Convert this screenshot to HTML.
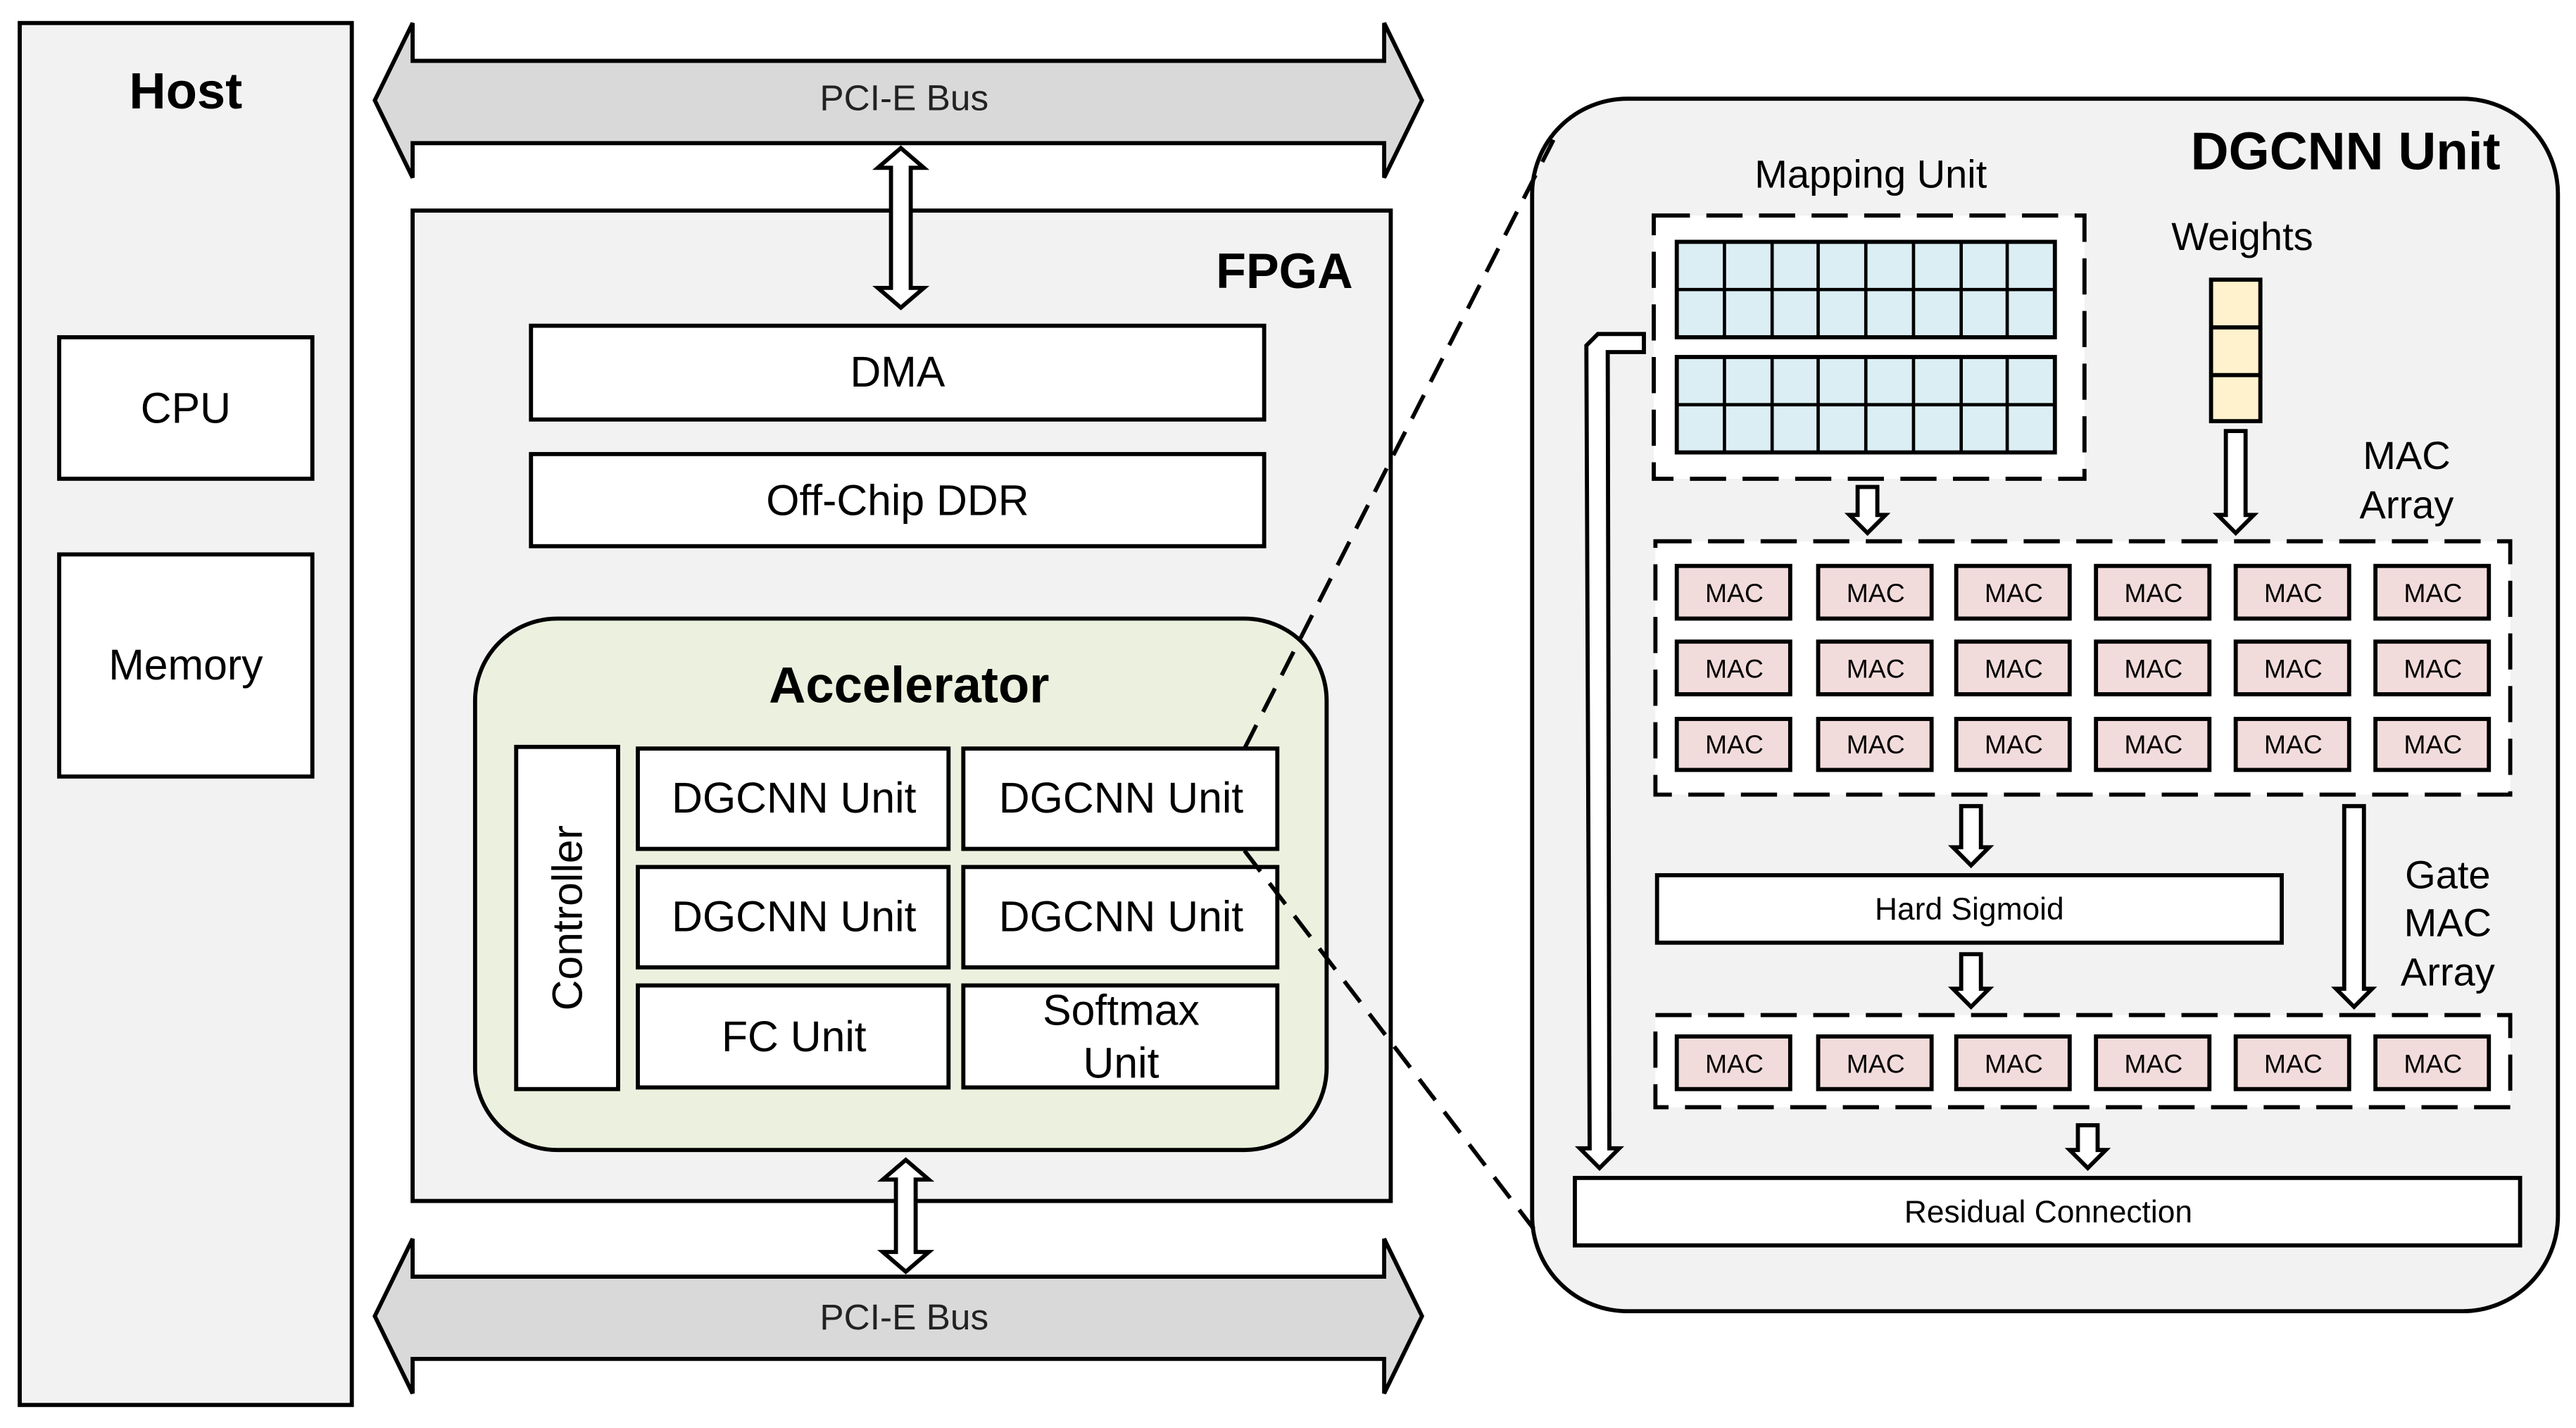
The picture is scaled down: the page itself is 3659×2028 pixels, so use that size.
<!DOCTYPE html>
<html><head><meta charset="utf-8"><style>html,body{margin:0;padding:0;background:#fff}svg{display:block}</style></head>
<body>
<svg width="3659" height="2028" viewBox="0 0 1567 868" preserveAspectRatio="none" xmlns="http://www.w3.org/2000/svg" font-family="'Liberation Sans', 'DejaVu Sans', sans-serif">
<g stroke="#000" stroke-width="2.5">
<rect x="12" y="14" width="202" height="840" fill="#f2f2f2"/>
<rect x="36" y="205" width="154" height="86" fill="#fff"/>
<rect x="36" y="337" width="154" height="135" fill="#fff"/>
<polygon points="228,61 251,14 251,37 842,37 842,14 865,61 842,108 842,87 251,87 251,108" fill="#d9d9d9"/>
<polygon points="228,800 251,753 251,776 842,776 842,753 865,800 842,847 842,826 251,826 251,847" fill="#d9d9d9"/>
<rect x="251" y="128" width="595" height="602" fill="#f2f2f2"/>
<polygon points="548,90 562,102 554,102 554,175 562,175 548,187 534,175 542,175 542,102 534,102" fill="#fff"/>
<polygon points="551,705 565,717 557,717 557,761 565,761 551,773 537,761 545,761 545,717 537,717" fill="#fff"/>
<rect x="323" y="198" width="446" height="57" fill="#fff"/>
<rect x="323" y="276" width="446" height="56" fill="#fff"/>
<rect x="289" y="376" width="518" height="323" rx="50" fill="#ebf1de"/>
<rect x="314" y="454" width="62" height="208" fill="#fff"/>
<rect x="388" y="455" width="189" height="61" fill="#fff"/>
<rect x="586" y="455" width="191" height="61" fill="#fff"/>
<rect x="388" y="527" width="189" height="61" fill="#fff"/>
<rect x="586" y="527" width="191" height="61" fill="#fff"/>
<rect x="388" y="599" width="189" height="62" fill="#fff"/>
<rect x="586" y="599" width="191" height="62" fill="#fff"/>
<rect x="932" y="60" width="624" height="737" rx="58" fill="#f2f2f2"/>
<line x1="757" y1="455" x2="945" y2="85" stroke-dasharray="16,9"/>
<line x1="757" y1="517" x2="933" y2="747" stroke-dasharray="16,9"/>
<rect x="1006" y="131" width="262" height="160" fill="#fff" stroke-dasharray="22,10"/>
<rect x="1007" y="329" width="520" height="154" fill="#fff" stroke-dasharray="22,10"/>
<rect x="1007" y="617" width="520" height="56" fill="#fff" stroke-dasharray="22,10"/>
<g fill="#dbeef3">
<rect x="1020" y="147" width="230" height="58"/><rect x="1020" y="217" width="230" height="58"/>
</g>
<g stroke-width="2">
<path d="M1020 176H1250M1020 246H1250M1049 147V205M1078 147V205M1106 147V205M1135 147V205M1164 147V205M1193 147V205M1221 147V205M1049 217V275M1078 217V275M1106 217V275M1135 217V275M1164 217V275M1193 217V275M1221 217V275"/>
</g>
<rect x="1345" y="170" width="30" height="86" fill="#fff2cc"/>
<path d="M1345 199H1375M1345 228H1375"/>
<g fill="#fff">
<polygon points="1130,296 1142,296 1142,313 1147,313 1136,324 1125,313 1130,313"/>
<polygon points="1354,262 1366,262 1366,313 1371,313 1360,324 1349,313 1354,313"/>
<polygon points="1193,490 1205,490 1205,515 1210,515 1199,526 1188,515 1193,515"/>
<polygon points="1193,580 1205,580 1205,601 1210,601 1199,612 1188,601 1193,601"/>
<polygon points="1426,490 1438,490 1438,601 1443,601 1432,612 1421,601 1426,601"/>
<polygon points="1264,684 1276,684 1276,699 1281,699 1270,710 1259,699 1264,699"/>
<polygon points="1000,203 972,203 965,210 967,698 961,698 973,710 985,698 979,698 978,214 1000,214"/>
<rect x="1008" y="532" width="380" height="41"/>
<rect x="958" y="716" width="575" height="41"/>
</g>
<g fill="#f2dcdb" stroke-width="2.5">
<rect x="1020" y="344" width="69" height="32"/><rect x="1106" y="344" width="69" height="32"/><rect x="1190" y="344" width="69" height="32"/><rect x="1275" y="344" width="69" height="32"/><rect x="1360" y="344" width="69" height="32"/><rect x="1445" y="344" width="69" height="32"/>
<rect x="1020" y="390" width="69" height="32"/><rect x="1106" y="390" width="69" height="32"/><rect x="1190" y="390" width="69" height="32"/><rect x="1275" y="390" width="69" height="32"/><rect x="1360" y="390" width="69" height="32"/><rect x="1445" y="390" width="69" height="32"/>
<rect x="1020" y="437" width="69" height="31"/><rect x="1106" y="437" width="69" height="31"/><rect x="1190" y="437" width="69" height="31"/><rect x="1275" y="437" width="69" height="31"/><rect x="1360" y="437" width="69" height="31"/><rect x="1445" y="437" width="69" height="31"/>
<rect x="1020" y="630" width="69" height="32"/><rect x="1106" y="630" width="69" height="32"/><rect x="1190" y="630" width="69" height="32"/><rect x="1275" y="630" width="69" height="32"/><rect x="1360" y="630" width="69" height="32"/><rect x="1445" y="630" width="69" height="32"/>
</g>
</g>
<g text-anchor="middle" fill="#000">
<text x="113" y="66" font-size="31" font-weight="bold">Host</text>
<text x="113" y="257" font-size="26">CPU</text>
<text x="113" y="413" font-size="26">Memory</text>
<text x="550" y="67" font-size="22" fill="#222">PCI-E Bus</text>
<text x="550" y="808" font-size="22" fill="#222">PCI-E Bus</text>
<text x="823" y="175" font-size="30" font-weight="bold" text-anchor="end">FPGA</text>
<text x="546" y="235" font-size="26">DMA</text>
<text x="546" y="313" font-size="26">Off-Chip DDR</text>
<text x="553" y="427" font-size="31" font-weight="bold">Accelerator</text>
<text transform="translate(354,558) rotate(-90)" font-size="26">Controller</text>
<text x="483" y="494" font-size="26">DGCNN Unit</text>
<text x="682" y="494" font-size="26">DGCNN Unit</text>
<text x="483" y="566" font-size="26">DGCNN Unit</text>
<text x="682" y="566" font-size="26">DGCNN Unit</text>
<text x="483" y="639" font-size="26">FC Unit</text>
<text x="682" y="623" font-size="26">Softmax</text>
<text x="682" y="655" font-size="26">Unit</text>
<text x="1521" y="103" font-size="32" font-weight="bold" text-anchor="end">DGCNN Unit</text>
<text x="1138" y="114" font-size="24">Mapping Unit</text>
<text x="1364" y="152" font-size="24">Weights</text>
<text x="1464" y="285" font-size="24">MAC</text>
<text x="1464" y="315" font-size="24">Array</text>
<text x="1489" y="540" font-size="24">Gate</text>
<text x="1489" y="569" font-size="24">MAC</text>
<text x="1489" y="599" font-size="24">Array</text>
<text x="1198" y="559" font-size="19">Hard Sigmoid</text>
<text x="1246" y="743" font-size="19">Residual Connection</text>
<g font-size="16">
<text x="1055" y="366">MAC</text><text x="1141" y="366">MAC</text><text x="1225" y="366">MAC</text><text x="1310" y="366">MAC</text><text x="1395" y="366">MAC</text><text x="1480" y="366">MAC</text>
<text x="1055" y="412">MAC</text><text x="1141" y="412">MAC</text><text x="1225" y="412">MAC</text><text x="1310" y="412">MAC</text><text x="1395" y="412">MAC</text><text x="1480" y="412">MAC</text>
<text x="1055" y="458">MAC</text><text x="1141" y="458">MAC</text><text x="1225" y="458">MAC</text><text x="1310" y="458">MAC</text><text x="1395" y="458">MAC</text><text x="1480" y="458">MAC</text>
<text x="1055" y="652">MAC</text><text x="1141" y="652">MAC</text><text x="1225" y="652">MAC</text><text x="1310" y="652">MAC</text><text x="1395" y="652">MAC</text><text x="1480" y="652">MAC</text>
</g>
</g>
</svg>
</body></html>
